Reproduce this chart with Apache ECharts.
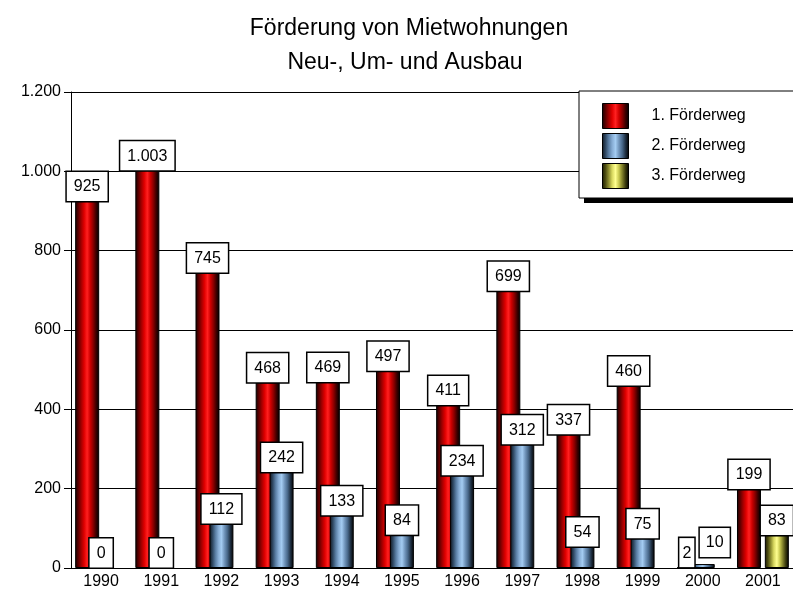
<!DOCTYPE html>
<html>
<head>
<meta charset="utf-8">
<script src="https://cdn.jsdelivr.net/npm/echarts@6/dist/echarts.min.js"></script>
<style>
  html, body { margin: 0; padding: 0; background: #fff; }
  #main { width: 793px; height: 603px; }
</style>
</head>
<body>
<div id="main"></div>
<script>
// Daten
var jahre = ['1990', '1991', '1992', '1993', '1994', '1995', '1996', '1997', '1998', '1999', '2000', '2001'];
var weg1 = [925, 1003, 745, 468, 469, 497, 411, 699, 337, 460, 2, 199];
var weg2 = [0, 0, 112, 242, 133, 84, 234, 312, 54, 75, 10, null];
var weg3 = [null, null, null, null, null, null, null, null, null, null, null, 83];
var serienNamen = ['1. Förderweg', '2. Förderweg', '3. Förderweg'];

var schrift = 'Liberation Sans';

function tausender(v) {
    return String(v).replace(/\B(?=(\d{3})+(?!\d))/g, '.');
}

function verlauf(stops) {
    return new echarts.graphic.LinearGradient(0, 0, 1, 0, stops.map(function (c, i) {
        return { offset: i / (stops.length - 1), color: c };
    }));
}

var farbeRot = verlauf(['#150000', '#5a0000', '#a00000', '#e00000', '#ff2020', '#d00000', '#8a0000', '#3a0000', '#000000']);
var farbeBlau = verlauf(['#0e151d', '#2e4660', '#5a7ea4', '#86acd4', '#a4ccf2', '#7296bc', '#48688a', '#1e2e40', '#000000']);
var farbeGelb = verlauf(['#181800', '#4a4a10', '#8e8e30', '#d8d860', '#ffff90', '#c8c850', '#80802a', '#38380c', '#000000']);

var etikett = {
    show: true,
    position: 'top',
    distance: 0,
    color: '#000',
    fontFamily: schrift,
    fontSize: 16,
    backgroundColor: '#fff',
    borderColor: '#000',
    borderWidth: 1.5,
    padding: [7, 7, 6, 7],
    formatter: function (p) {
        return p.value == null ? '' : tausender(p.value);
    }
};

// im Jahr 2000 liegen die Beschriftungen uebereinander -> leicht versetzen
var idx2000 = jahre.indexOf('2000');
var versatz = [
    { padding: [7, 3, 6, 3], offset: [-2, 0] },
    { padding: [7, 6, 6, 6], offset: [12, -7] },
    null
];

function serie(i, daten, farbe) {
    return {
        name: serienNamen[i],
        type: 'bar',
        data: daten.map(function (v, k) {
            if (k === idx2000 && versatz[i]) return { value: v, label: versatz[i] };
            return v;
        }),
        barWidth: 24,
        barGap: '-42%',
        itemStyle: { color: farbe, borderColor: '#000', borderWidth: 1 },
        label: etikett
    };
}

var chart = echarts.init(document.getElementById('main'));

chart.setOption({
    animation: false,
    title: [
        {
            text: 'Förderung von Mietwohnungen',
            left: 404, top: 12, textAlign: 'center',
            textStyle: { fontFamily: schrift, fontSize: 23, fontWeight: 'normal', color: '#000' }
        },
        {
            text: 'Neu-, Um- und Ausbau',
            left: 400, top: 46, textAlign: 'center',
            textStyle: { fontFamily: schrift, fontSize: 23, fontWeight: 'normal', color: '#000' }
        }
    ],
    // Legendenkasten mit Schatten
    graphic: [
        { type: 'rect', z: 1, shape: { x: 584, y: 96, width: 230, height: 107 }, style: { fill: '#000' } },
        { type: 'rect', z: 1, shape: { x: 579, y: 91, width: 230, height: 107 }, style: { fill: '#fff', stroke: '#000', lineWidth: 1 } }
    ],
    legend: {
        orient: 'vertical',
        left: 579,
        top: 91,
        z: 3,
        data: serienNamen,
        icon: 'rect',
        itemWidth: 26,
        itemHeight: 25,
        itemGap: 4,
        padding: [12, 28, 12, 23],
        itemStyle: { borderColor: '#000', borderWidth: 1 },
        textStyle: { fontFamily: schrift, fontSize: 16, color: '#000', padding: [0, 0, 0, 18] }
    },
    grid: { left: 71, right: -6, top: 92, bottom: 35 },
    xAxis: [
        {
            type: 'category',
            data: jahre,
            axisLine: { lineStyle: { color: '#000', width: 1 } },
            axisTick: { alignWithLabel: true, length: 5, lineStyle: { color: '#000' } },
            axisLabel: { color: '#000', fontFamily: schrift, fontSize: 16, margin: 6 }
        },
        {
            type: 'category',
            data: jahre,
            position: 'bottom',
            axisLine: { show: false },
            axisTick: { length: 3, lineStyle: { color: '#000' } },
            axisLabel: { show: false }
        }
    ],
    yAxis: {
        type: 'value',
        min: 0,
        max: 1200,
        interval: 200,
        axisLine: { show: true, lineStyle: { color: '#000', width: 1 } },
        axisTick: { show: true, length: 7, lineStyle: { color: '#000' } },
        axisLabel: {
            color: '#000', fontFamily: schrift, fontSize: 16, margin: 10,
            formatter: function (v) { return tausender(v); }
        },
        splitLine: { show: true, lineStyle: { color: '#000', width: 1 } }
    },
    series: [
        serie(0, weg1, farbeRot),
        serie(1, weg2, farbeBlau),
        serie(2, weg3, farbeGelb)
    ]
});
</script>
</body>
</html>
